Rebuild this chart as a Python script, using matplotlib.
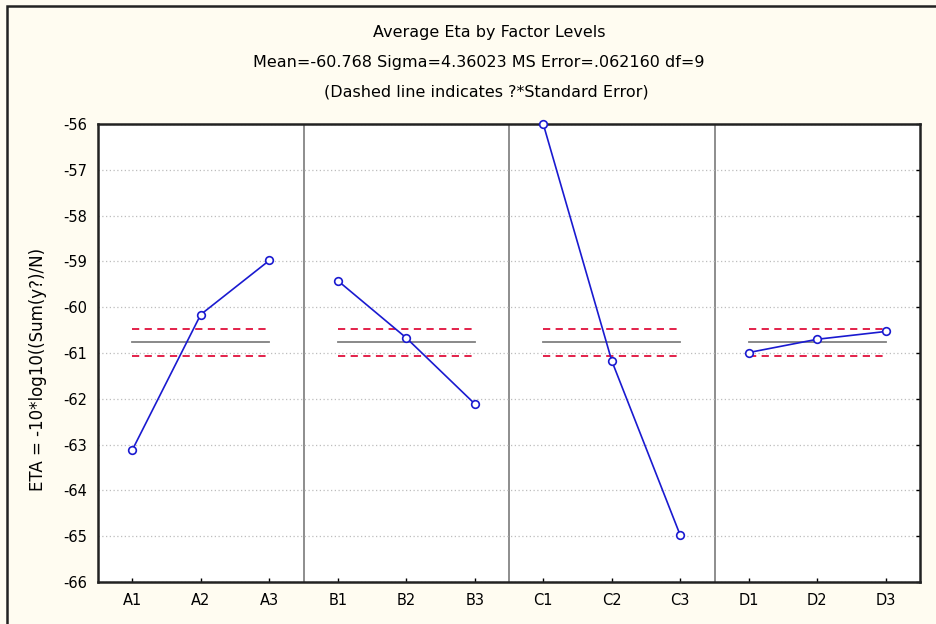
import matplotlib
matplotlib.use("Agg")
import matplotlib.pyplot as plt
from matplotlib.patches import Rectangle

levels = ["A1", "A2", "A3", "B1", "B2", "B3", "C1", "C2", "C3", "D1", "D2", "D3"]
groups = [["A1", "A2", "A3"], ["B1", "B2", "B3"], ["C1", "C2", "C3"], ["D1", "D2", "D3"]]
group_values = [
    [-63.12, -60.16, -58.98],
    [-59.42, -60.67, -62.11],
    [-56.00, -61.17, -64.98],
    [-60.99, -60.70, -60.53],
]
grand_mean = -60.768
err_band = 0.288
yticks = [-56, -57, -58, -59, -60, -61, -62, -63, -64, -65, -66]

fig = plt.figure(figsize=(9.36, 6.24), dpi=100)
fig.patch.set_facecolor("#fffcf1")
fig.add_artist(Rectangle((7/936, -0.01), 1.0, 1 - 6/624 + 0.01, transform=fig.transFigure,
                         fill=False, edgecolor="#222222", linewidth=1.8))

ax = fig.add_axes([98/936, 1 - 582/624, (920-98)/936, (582-124)/624])
ax.set_facecolor("white")

pos = {lab: i for i, lab in enumerate(levels)}
for g, vals in zip(groups, group_values):
    xs = [pos[l] for l in g]
    ax.plot([xs[0], xs[-1]], [grand_mean, grand_mean], color="#808080", lw=1.3, zorder=2)
    for off in (err_band, -err_band):
        ax.plot([xs[0], xs[-1]], [grand_mean + off, grand_mean + off], color="#e0103c",
                lw=1.3, ls=(0, (4, 3)), zorder=2)
    ax.plot(xs, vals, color="#1a1ad0", lw=1.2, marker="o", ms=5.5, mfc="white",
            mec="#1a1ad0", mew=1.2, zorder=3, clip_on=False)

for sep in (2.5, 5.5, 8.5):
    ax.axvline(sep, color="#7a7a7a", lw=1.2, zorder=1)

ax.set_xlim(-0.5, len(levels) - 0.5)
ax.set_ylim(-66, -56)
ax.set_yticks(yticks)
ax.set_yticklabels([str(t) for t in yticks], fontsize=10.5)
ax.set_xticks(range(len(levels)))
ax.set_xticklabels(levels, fontsize=10.5)
ax.tick_params(axis="both", direction="in", length=3, width=1, pad=8)
ax.tick_params(axis="y", right=True, left=False)
ax.grid(axis="y", color="#bdbdbd", ls=(0, (1, 2)), lw=0.9, zorder=0)
for s in ax.spines.values():
    s.set_linewidth(1.8)
    s.set_color("#222222")

ax.set_ylabel("ETA = -10*log10((Sum(y?)/N)", fontsize=12, labelpad=10)
ax.yaxis.set_label_coords(-0.062, 0.465)

fig.text(0.523, 1 - 33/624, "Average Eta by Factor Levels", ha="center", va="center", fontsize=11.5)
fig.text(0.512, 1 - 62/624, "Mean=-60.768 Sigma=4.36023 MS Error=.062160 df=9",
         ha="center", va="center", fontsize=11.5)
fig.text(0.52, 1 - 92/624, "(Dashed line indicates ?*Standard Error)", ha="center", va="center",
         fontsize=11.5)

fig.savefig("out.png", dpi=100, facecolor=fig.get_facecolor())
